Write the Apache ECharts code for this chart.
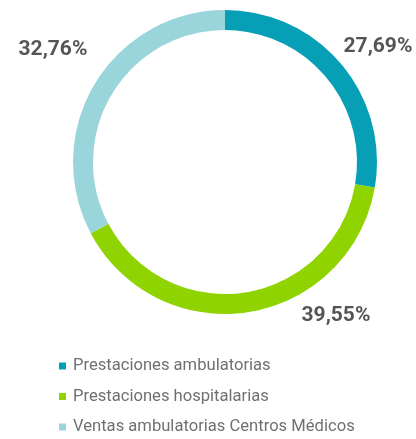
<!DOCTYPE html>
<html lang="es">
<head>
    <meta charset="UTF-8">
    <title>donut</title>
    <script src="https://cdn.jsdelivr.net/npm/echarts@6/dist/echarts.min.js"></script>
    <style>
        html, body { margin: 0; padding: 0; background: #fff; }
    </style>
</head>
<body>
    <div id="main" style="width: 416px;height: 439px;"></div>
    <script>
        var categories = ['Prestaciones ambulatorias', 'Prestaciones hospitalarias', 'Ventas ambulatorias Centros Médicos']
        var values = [27.69, 39.55, 32.76]
        var colors = ['#069fb6', '#8fd400', '#9bd5dc']

        // posiciones de las etiquetas de porcentaje (px)
        var labelPos = [[378, 47], [336, 316], [53, 50]]

        var myChart = echarts.init(document.getElementById('main'))
        var option = {
            color: colors,
            legend: {
                orient: 'vertical',
                left: 59,
                top: 357,
                height: 90,
                padding: 0,
                itemWidth: 7,
                itemHeight: 7,
                itemGap: 12.5,
                icon: 'rect',
                data: categories,
                textStyle: {
                    fontFamily: 'Roboto',
                    fontSize: 16.6,
                    lineHeight: 18,
                    color: '#707070',
                    padding: [0, 0, 0, 2]
                }
            },
            series: [
                {
                    type: 'pie',
                    center: [225, 162],
                    radius: [132, 152],
                    startAngle: 90,
                    clockwise: true,
                    silent: true,
                    data: categories.map(function (name, i) {
                        return { name: name, value: values[i] }
                    }),
                    labelLine: { show: false },
                    label: {
                        show: true,
                        position: 'inside',
                        overflow: 'none',
                        fontFamily: 'Roboto',
                        fontWeight: 'bold',
                        fontSize: 21,
                        color: '#555555',
                        formatter: function (p) {
                            return p.value.toFixed(2).replace('.', ',') + '%'
                        }
                    },
                    labelLayout: function (params) {
                        var pos = labelPos[params.dataIndex]
                        return {
                            x: pos[0],
                            y: pos[1],
                            align: 'center',
                            verticalAlign: 'middle'
                        }
                    }
                }
            ]
        }
        myChart.setOption(option)
    </script>
</body>
</html>
